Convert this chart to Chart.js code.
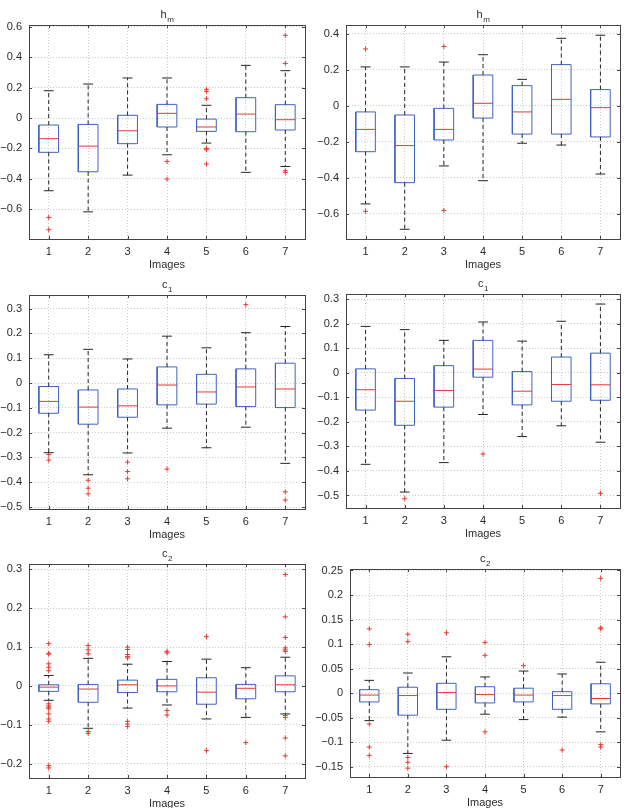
<!DOCTYPE html>
<html>
<head>
<meta charset="utf-8">
<script src="https://cdn.jsdelivr.net/npm/chart.js@4.4.1/dist/chart.umd.min.js"></script>
<style>
  html, body { margin: 0; padding: 0; background: #fff; }
  #fig { position: relative; width: 629px; height: 808px; overflow: hidden; }
  #fig canvas { position: absolute; }
</style>
</head>
<body>
<div id="fig"></div>
<script>
const categories = [1, 2, 3, 4, 5, 6, 7];
const xTitle = 'Images';

// each box: [lower whisker, q1, median, q3, upper whisker]
const hmLeftBoxes = [
  [-0.479, -0.226, -0.136, -0.046, 0.180],
  [-0.618, -0.354, -0.185, -0.042, 0.224],
  [-0.376, -0.169, -0.084, 0.018, 0.264],
  [-0.242, -0.059, 0.031, 0.090, 0.264],
  [-0.165, -0.088, -0.059, -0.007, 0.084],
  [-0.358, -0.090, 0.026, 0.134, 0.347],
  [-0.319, -0.079, -0.011, 0.088, 0.312]
];
const hmLeftOutliers = [[-0.655, -0.736], [], [], [-0.286, -0.402], [0.189, 0.176, 0.127, -0.200, -0.209, -0.303], [], [0.545, 0.360, -0.347, -0.358]];
const hmLeftTicks = [-0.6, -0.4, -0.2, 0, 0.2, 0.4, 0.6];
const hmLeftRange = [-0.797, 0.613];

const hmRightBoxes = [
  [-0.544, -0.254, -0.130, -0.033, 0.217],
  [-0.685, -0.426, -0.220, -0.050, 0.217],
  [-0.333, -0.189, -0.130, -0.013, 0.244],
  [-0.415, -0.067, 0.015, 0.172, 0.285],
  [-0.207, -0.156, -0.033, 0.113, 0.148],
  [-0.217, -0.156, 0.037, 0.230, 0.376],
  [-0.378, -0.172, -0.009, 0.091, 0.393]
];
const hmRightOutliers = [[0.317, -0.585], [], [0.331, -0.580], [], [], [], []];
const hmRightTicks = [-0.6, -0.4, -0.2, 0, 0.2, 0.4];
const hmRightRange = [-0.739, 0.450];

const c1LeftBoxes = [
  [-0.281, -0.122, -0.074, -0.014, 0.114],
  [-0.370, -0.166, -0.097, -0.028, 0.136],
  [-0.282, -0.138, -0.092, -0.024, 0.097],
  [-0.182, -0.088, -0.008, 0.065, 0.189],
  [-0.261, -0.085, -0.036, 0.035, 0.142],
  [-0.178, -0.095, -0.016, 0.057, 0.203],
  [-0.324, -0.099, -0.024, 0.080, 0.228]
];
const c1LeftOutliers = [[-0.288, -0.311], [-0.392, -0.424, -0.447], [-0.319, -0.357, -0.386], [-0.347], [], [0.316], [-0.439, -0.472]];
const c1LeftTicks = [-0.5, -0.4, -0.3, -0.2, -0.1, 0, 0.1, 0.2, 0.3];
const c1LeftRange = [-0.508, 0.355];

const c1RightBoxes = [
  [-0.373, -0.152, -0.069, 0.016, 0.189],
  [-0.486, -0.214, -0.116, -0.023, 0.176],
  [-0.366, -0.140, -0.072, 0.029, 0.132],
  [-0.170, -0.018, 0.015, 0.132, 0.207],
  [-0.260, -0.131, -0.075, 0.005, 0.129],
  [-0.216, -0.116, -0.048, 0.064, 0.210],
  [-0.283, -0.112, -0.049, 0.080, 0.280]
];
const c1RightOutliers = [[], [-0.513], [], [-0.331], [], [], [-0.491]];
const c1RightTicks = [-0.5, -0.4, -0.3, -0.2, -0.1, 0, 0.1, 0.2, 0.3];
const c1RightRange = [-0.551, 0.321];

const c2LeftBoxes = [
  [-0.037, -0.014, -0.003, 0.003, 0.027],
  [-0.109, -0.042, -0.008, 0.004, 0.071],
  [-0.057, -0.017, 0.003, 0.015, 0.056],
  [-0.049, -0.015, 0.000, 0.017, 0.063],
  [-0.085, -0.047, -0.016, 0.021, 0.069],
  [-0.081, -0.033, -0.006, 0.004, 0.047],
  [-0.072, -0.015, 0.003, 0.026, 0.074]
];
const c2LeftOutliers = [
  [0.109, 0.084, 0.082, 0.057, 0.048, 0.039, -0.046, -0.051, -0.055, -0.059, -0.072, -0.085, -0.091, -0.205, -0.211],
  [0.104, 0.093, 0.083, -0.117, -0.122],
  [0.100, 0.094, 0.081, 0.076, 0.072, -0.091, -0.098, -0.104],
  [0.089, 0.085, -0.063, -0.075],
  [0.127, -0.166],
  [-0.146],
  [0.287, 0.178, 0.125, 0.098, 0.093, 0.089, -0.076, -0.081, -0.134, -0.180]
];
const c2LeftTicks = [-0.2, -0.1, 0, 0.1, 0.2, 0.3];
const c2LeftRange = [-0.237, 0.314];

const c2RightBoxes = [
  [-0.056, -0.018, -0.004, 0.007, 0.026],
  [-0.123, -0.045, -0.005, 0.012, 0.041],
  [-0.096, -0.033, 0.001, 0.020, 0.074],
  [-0.043, -0.020, -0.003, 0.013, 0.033],
  [-0.054, -0.018, -0.004, 0.010, 0.045],
  [-0.049, -0.033, -0.005, 0.003, 0.039],
  [-0.079, -0.022, -0.011, 0.019, 0.063]
];
const c2RightOutliers = [[0.131, 0.099, -0.063, -0.110, -0.127], [0.120, 0.105, -0.131, -0.141, -0.153], [0.123, -0.150], [0.103, 0.077, -0.079], [0.056], [-0.116], [0.234, 0.133, 0.131, -0.105, -0.110]];
const c2RightTicks = [-0.15, -0.1, -0.05, 0, 0.05, 0.1, 0.15, 0.2, 0.25];
const c2RightRange = [-0.171, 0.253];

// title base letter + subscript
const titles = [['h', 'm'], ['h', 'm'], ['c', '1'], ['c', '1'], ['c', '2'], ['c', '2']];

// plot area of each panel in page pixels: left, top, width, height
const rects = [
  [29, 24.5, 276, 214],
  [345.7, 24.5, 274, 214],
  [29, 294.5, 275.5, 213.5],
  [345.7, 294.3, 274, 213.7],
  [29, 563.5, 276, 214],
  [349.7, 569.3, 270, 208]
];

const panels = [
  { boxes: hmLeftBoxes, outliers: hmLeftOutliers, ticks: hmLeftTicks, range: hmLeftRange },
  { boxes: hmRightBoxes, outliers: hmRightOutliers, ticks: hmRightTicks, range: hmRightRange },
  { boxes: c1LeftBoxes, outliers: c1LeftOutliers, ticks: c1LeftTicks, range: c1LeftRange },
  { boxes: c1RightBoxes, outliers: c1RightOutliers, ticks: c1RightTicks, range: c1RightRange },
  { boxes: c2LeftBoxes, outliers: c2LeftOutliers, ticks: c2LeftTicks, range: c2LeftRange },
  { boxes: c2RightBoxes, outliers: c2RightOutliers, ticks: c2RightTicks, range: c2RightRange }
];

const FONT = "'Liberation Sans', Arial, sans-serif";
const FS = 11;
const TEXT = '#2b2b2b';
const BLUE = '#4262c2';
const RED = '#e8392f';
const BLACK = '#262626';
const AXIS_W = 45, TOP_PAD = 25, X_H = 33, RIGHT_PAD = 6;
const HALF_BOX = 0.25, HALF_CAP = 0.125;

const fmt = v => (v < 0 ? '\u2212' : '') + String(Math.abs(v));
const gap = x => ({ x: x, y: null });

function buildDatasets(p) {
  const box = [], med = [], whisk = [], caps = [], outs = [];
  p.boxes.forEach((b, i) => {
    const x = categories[i];
    const [lo, q1, m, q3, hi] = b;
    box.push({ x: x - HALF_BOX, y: q1 }, { x: x + HALF_BOX, y: q1 }, { x: x + HALF_BOX, y: q3 },
      { x: x - HALF_BOX, y: q3 }, { x: x - HALF_BOX, y: q1 }, gap(x));
    med.push({ x: x - HALF_BOX, y: m }, { x: x + HALF_BOX, y: m }, gap(x));
    whisk.push({ x: x, y: q3 }, { x: x, y: hi }, gap(x), { x: x, y: q1 }, { x: x, y: lo }, gap(x));
    caps.push({ x: x - HALF_CAP, y: hi }, { x: x + HALF_CAP, y: hi }, gap(x),
      { x: x - HALF_CAP, y: lo }, { x: x + HALF_CAP, y: lo }, gap(x));
    p.outliers[i].forEach(v => outs.push({ x: x, y: v }));
  });
  const line = (data, color, dash) => ({
    data: data, borderColor: color, borderWidth: 1, borderDash: dash || [],
    pointRadius: 0, tension: 0, spanGaps: false, fill: false
  });
  return [
    line(whisk, BLACK, [4, 3]),
    line(caps, BLACK),
    line(box, BLUE),
    line(med, RED),
    {
      data: outs, showLine: false, pointStyle: 'cross', pointRadius: 2.5,
      borderColor: RED, backgroundColor: RED, borderWidth: 1
    }
  ];
}

// axes box, inward tick marks and subscripted title
const framePlugin = {
  id: 'frame',
  afterDatasetsDraw(chart, args, opts) {
    const { ctx, chartArea: a, scales } = chart;
    ctx.save();
    ctx.strokeStyle = '#444';
    ctx.lineWidth = 1;
    ctx.beginPath();
    scales.x.ticks.forEach(t => {
      const px = Math.round(scales.x.getPixelForValue(t.value)) + 0.5;
      ctx.moveTo(px, a.bottom); ctx.lineTo(px, a.bottom - 3);
      ctx.moveTo(px, a.top); ctx.lineTo(px, a.top + 3);
    });
    scales.y.ticks.forEach(t => {
      const py = Math.round(scales.y.getPixelForValue(t.value)) + 0.5;
      ctx.moveTo(a.left, py); ctx.lineTo(a.left + 3, py);
      ctx.moveTo(a.right, py); ctx.lineTo(a.right - 3, py);
    });
    ctx.stroke();
    ctx.strokeRect(Math.round(a.left) + 0.5, Math.round(a.top) + 0.5,
      Math.round(a.right - a.left), Math.round(a.bottom - a.top));

    const [base, sub] = opts.title;
    ctx.fillStyle = TEXT;
    ctx.textBaseline = 'alphabetic';
    ctx.font = FS + 'px ' + FONT;
    const wb = ctx.measureText(base).width;
    ctx.font = '8px ' + FONT;
    const ws = ctx.measureText(sub).width;
    const cx = (a.left + a.right) / 2;
    const x0 = cx - (wb + ws) / 2;
    const y0 = a.top - 7;
    ctx.font = FS + 'px ' + FONT;
    ctx.textAlign = 'left';
    ctx.fillText(base, x0, y0);
    ctx.font = '8px ' + FONT;
    ctx.fillText(sub, x0 + wb + 0.5, y0 + 3.5);
    ctx.restore();
  }
};

const fig = document.getElementById('fig');

panels.forEach((p, k) => {
  const [pl, pt, pw, ph] = rects[k];
  const canvas = document.createElement('canvas');
  const w = Math.round(pw + AXIS_W + RIGHT_PAD);
  const h = Math.round(ph + TOP_PAD + X_H);
  canvas.width = w;
  canvas.height = h;
  canvas.style.left = (pl - AXIS_W) + 'px';
  canvas.style.top = (pt - TOP_PAD) + 'px';
  canvas.style.width = w + 'px';
  canvas.style.height = h + 'px';
  fig.appendChild(canvas);

  new Chart(canvas.getContext('2d'), {
    type: 'line',
    data: { datasets: buildDatasets(p) },
    plugins: [framePlugin],
    options: {
      responsive: false,
      animation: false,
      devicePixelRatio: 1,
      layout: { padding: { top: TOP_PAD, right: RIGHT_PAD, left: 0, bottom: 0 } },
      plugins: {
        legend: { display: false },
        tooltip: { enabled: false },
        frame: { title: titles[k] }
      },
      scales: {
        x: {
          type: 'linear',
          min: 0.5,
          max: 7.5,
          bounds: 'data',
          afterBuildTicks: s => { s.ticks = categories.map(v => ({ value: v })); },
          afterFit: s => { s.height = X_H; },
          grid: { color: '#cacaca', drawTicks: false },
          border: { display: false, dash: [1, 2] },
          ticks: { color: TEXT, font: { family: FONT, size: FS }, padding: 6, maxRotation: 0, autoSkip: false },
          title: { display: true, text: xTitle, color: TEXT, font: { family: FONT, size: FS }, padding: { top: 0, bottom: 0 } }
        },
        y: {
          type: 'linear',
          min: p.range[0],
          max: p.range[1],
          bounds: 'data',
          afterBuildTicks: s => { s.ticks = p.ticks.map(v => ({ value: v })); },
          afterFit: s => { s.width = AXIS_W; },
          grid: { color: '#cacaca', drawTicks: false },
          border: { display: false, dash: [1, 2] },
          ticks: { color: TEXT, font: { family: FONT, size: FS }, padding: 7, callback: v => fmt(v), autoSkip: false }
        }
      }
    }
  });
});
</script>
</body>
</html>
